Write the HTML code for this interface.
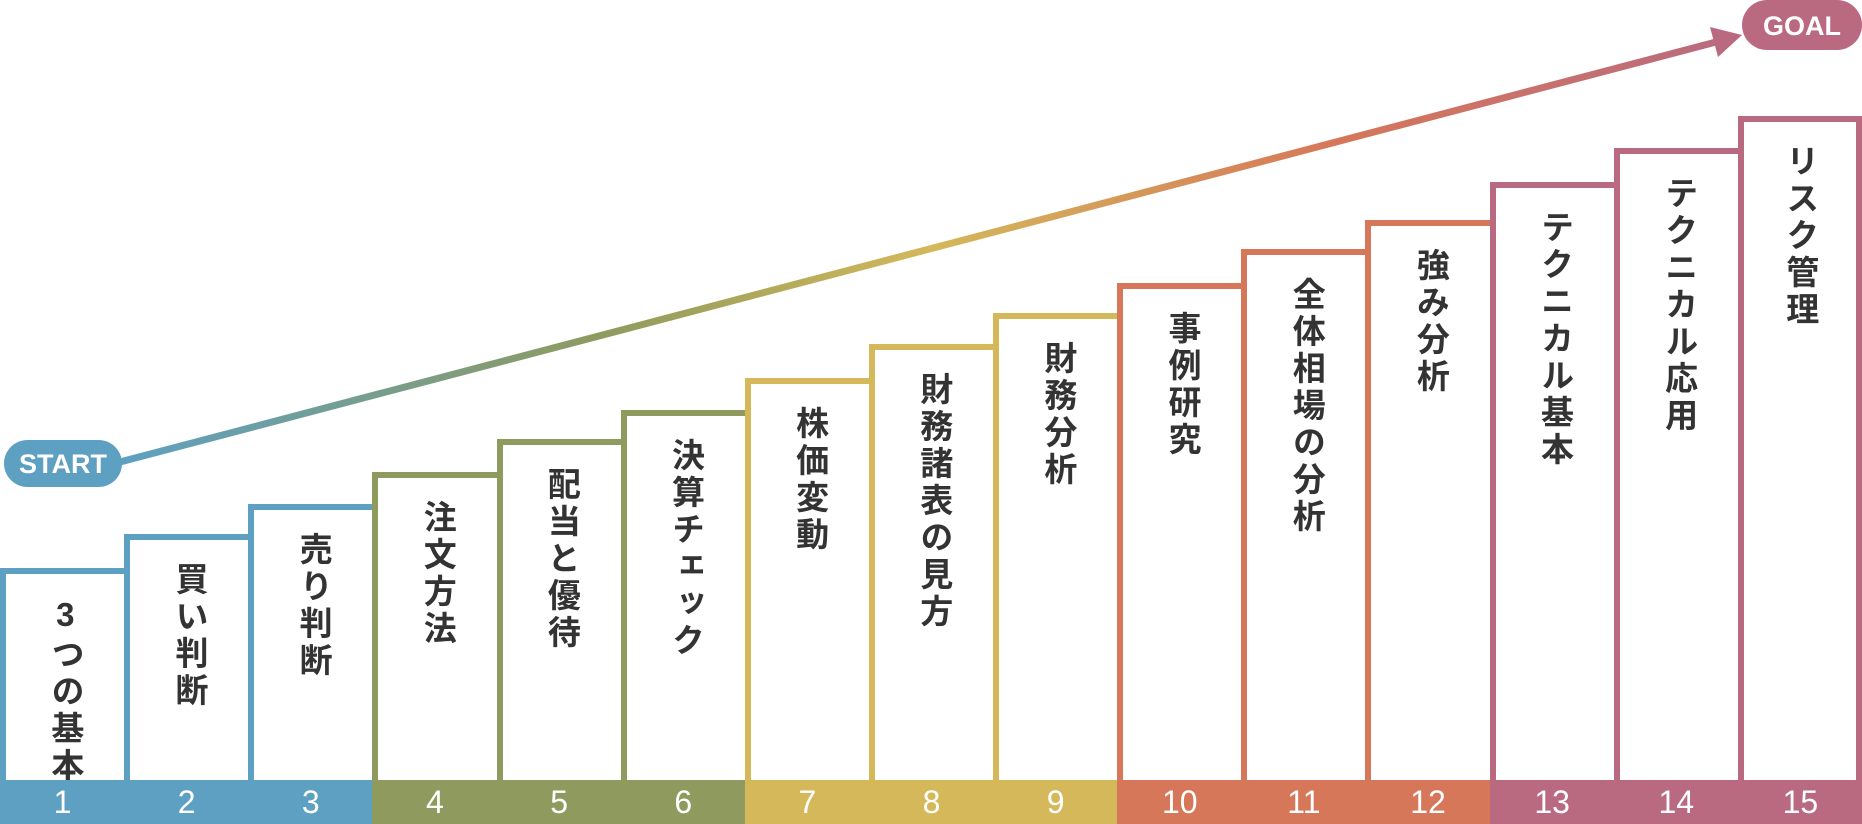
<!DOCTYPE html>
<html><head><meta charset="utf-8"><style>
html,body{margin:0;padding:0;background:#fff;width:1862px;height:824px;overflow:hidden;}
#c{position:relative;width:1862px;height:824px;overflow:hidden;font-family:"Liberation Sans","Noto Sans CJK JP",sans-serif;}
.b{position:absolute;box-sizing:border-box;border:6px solid;border-bottom:none;background:#fff;bottom:44px;overflow:hidden;}
.t{position:absolute;top:22px;left:50%;transform:translateX(-50%);writing-mode:vertical-rl;text-orientation:upright;font-size:33px;font-weight:bold;color:#333;letter-spacing:4px;line-height:1.2;white-space:nowrap;}
.n{position:absolute;bottom:0;height:44px;line-height:44px;text-align:center;color:#fff;font-size:32px;}
svg{position:absolute;left:0;top:0;}
</style></head><body><div id="c"></div>
<svg width="1862" height="824">
<defs><linearGradient id="g" x1="122" y1="462" x2="1740" y2="35" gradientUnits="userSpaceOnUse">
<stop offset="0" stop-color="#5ea0c1"/><stop offset="0.3" stop-color="#8f9b5e"/><stop offset="0.5" stop-color="#d4b85a"/><stop offset="0.75" stop-color="#d6775a"/><stop offset="1" stop-color="#b96a80"/></linearGradient></defs>
<line x1="120" y1="462" x2="1716" y2="42" stroke="url(#g)" stroke-width="7"/>
<polygon points="1742,35 1710,27 1718,57" fill="#b96a80"/>
<rect x="4" y="440" width="118" height="47" rx="23.5" fill="#5ea0c1"/>
<text x="63" y="473" font-size="27" font-weight="bold" fill="#fff" text-anchor="middle" font-family="Liberation Sans,sans-serif">START</text>
<rect x="1742" y="0" width="120" height="50" rx="25" fill="#b96a80"/>
<text x="1802" y="35" font-size="27" font-weight="bold" fill="#fff" text-anchor="middle" font-family="Liberation Sans,sans-serif">GOAL</text>
</svg>
<script>
var tops=[568,534,504,472,439,410,378,344,313,283,249,220,182,148,116];
var labels=["3つの基本","買い判断","売り判断","注文方法","配当と優待","決算チェック","株価変動","財務諸表の見方","財務分析","事例研究","全体相場の分析","強み分析","テクニカル基本","テクニカル応用","リスク管理"];
var cols=["#5ea0c1","#8f9b5e","#d4b85a","#d6775a","#b96a80"];
var c=document.getElementById('c'),h='';
var w=1862/15;
for(var i=0;i<15;i++){
 var x=i*w, col=cols[Math.floor(i/3)];
 var width=(i==14)?(1862-x):(w+6);
 h+='<div class="b" style="left:'+x+'px;width:'+width+'px;top:'+tops[i]+'px;border-color:'+col+'"><div class="t">'+labels[i]+'</div></div>';
 h+='<div class="n" style="left:'+x+'px;width:'+(w+1)+'px;background:'+col+'">'+(i+1)+'</div>';
}
c.innerHTML=h;
var s=document.querySelector('svg');c.appendChild(s);
</script>
</body></html>
